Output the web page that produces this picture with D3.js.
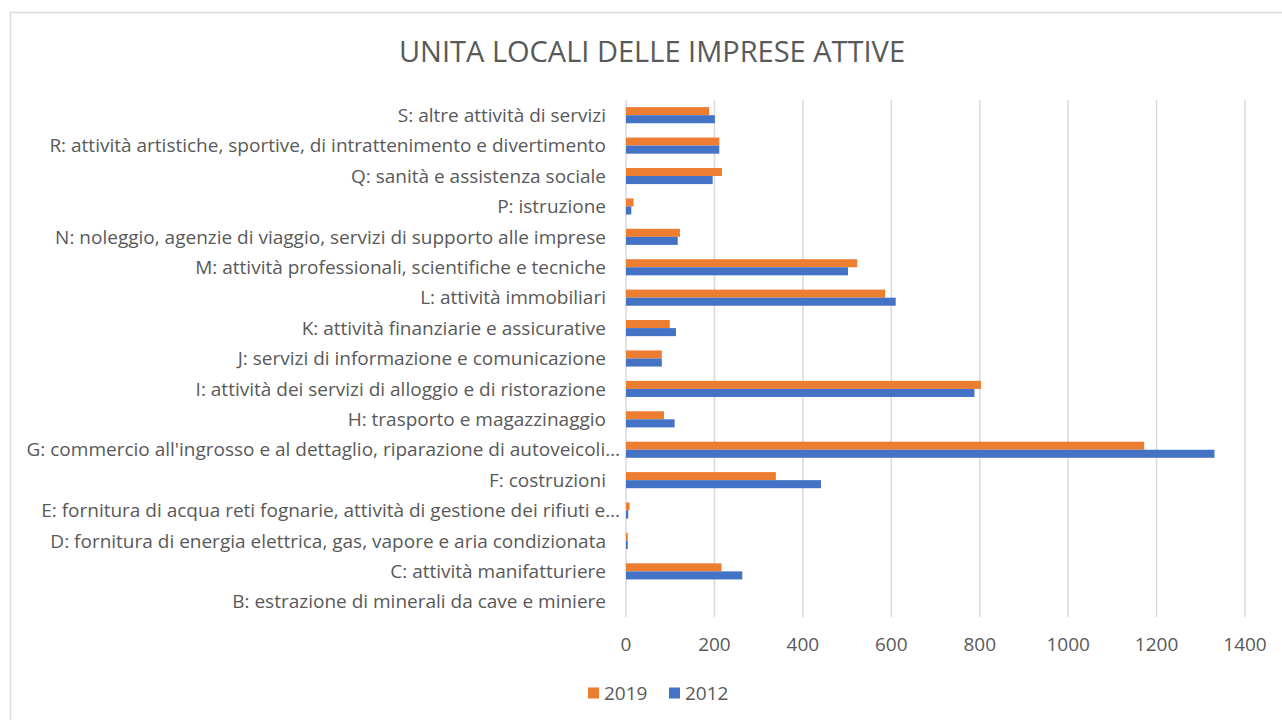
<!DOCTYPE html>
<html>
<head>
<meta charset="utf-8">
<script src="https://cdn.jsdelivr.net/npm/d3@7"></script>
<style>
  body { margin: 0; background: #fff; }
  svg { display: block; font-family: "Open Sans", sans-serif; }
</style>
</head>
<body>
<svg width="1282" height="720"></svg>
<script>
var categories = [
  "S: altre attività di servizi",
  "R: attività artistiche, sportive, di intrattenimento e divertimento",
  "Q: sanità e assistenza sociale",
  "P: istruzione",
  "N: noleggio, agenzie di viaggio, servizi di supporto alle imprese",
  "M: attività professionali, scientifiche e tecniche",
  "L: attività immobiliari",
  "K: attività finanziarie e assicurative",
  "J: servizi di informazione e comunicazione",
  "I: attività dei servizi di alloggio e di ristorazione",
  "H: trasporto e magazzinaggio",
  "G: commercio all'ingrosso e al dettaglio, riparazione di autoveicoli…",
  "F: costruzioni",
  "E: fornitura di acqua reti fognarie, attività di gestione dei rifiuti e…",
  "D: fornitura di energia elettrica, gas, vapore e aria condizionata",
  "C: attività manifatturiere",
  "B: estrazione di minerali da cave e miniere"
];
var values2019 = [188, 211, 217, 17, 122, 523, 586, 99, 81, 803, 86, 1172, 339, 8, 4, 216, 0];
var values2012 = [201, 211, 196, 12, 117, 502, 610, 113, 81, 788, 110, 1331, 441, 5, 4, 263, 0];
var seriesNames = ["2019", "2012"];
var seriesColors = ["#ED7D31", "#4472C4"];
var xTicks = [0, 200, 400, 600, 800, 1000, 1200, 1400];

var svg = d3.select("svg");

// chart frame
svg.append("rect")
  .attr("x", 10.5).attr("y", 12.5)
  .attr("width", 1290).attr("height", 720)
  .attr("fill", "#fff")
  .attr("stroke", "#D9D9D9")
  .attr("stroke-width", 1.5);

svg.append("text")
  .attr("x", 652).attr("y", 62)
  .attr("text-anchor", "middle")
  .attr("fill", "#595959")
  .style("font-size", "29px")
  .text("UNITA LOCALI DELLE IMPRESE ATTIVE");

var x = d3.scaleLinear().domain([0, 1400]).range([626, 1245]);
var y = d3.scaleBand().domain(categories).range([100, 617])
  .paddingInner(0.47).paddingOuter(0.235);
var ySub = d3.scaleBand().domain(seriesNames).range([0, y.bandwidth()]);

// gridlines
svg.append("g").selectAll("line")
  .data(xTicks)
  .enter().append("line")
  .attr("x1", function(d) { return x(d); })
  .attr("x2", function(d) { return x(d); })
  .attr("y1", 100).attr("y2", 617)
  .attr("stroke", "#D9D9D9")
  .attr("stroke-width", 1.5);

// x tick labels
svg.append("g").selectAll("text")
  .data(xTicks)
  .enter().append("text")
  .attr("x", function(d) { return x(d); })
  .attr("y", 651)
  .attr("text-anchor", "middle")
  .attr("fill", "#595959")
  .style("font-size", "19px")
  .text(function(d) { return d; });

// category labels
svg.append("g").selectAll("text")
  .data(categories)
  .enter().append("text")
  .attr("x", function(d) { return d.slice(-1) === "…" ? 620 : 606; })
  .attr("y", function(d) { return y(d) - y.step() * 0.235 + y.step() / 2; })
  .attr("dy", "0.35em")
  .attr("text-anchor", "end")
  .attr("fill", "#595959")
  .style("font-size", "19px")
  .text(function(d) { return d; });

// bars
var rows = categories.map(function(c, i) {
  return { cat: c, vals: [values2019[i], values2012[i]] };
});

var grp = svg.append("g").selectAll("g")
  .data(rows)
  .enter().append("g")
  .attr("transform", function(d) { return "translate(0," + y(d.cat) + ")"; });

grp.selectAll("rect")
  .data(function(d) { return d.vals.map(function(v, k) { return { s: seriesNames[k], v: v, k: k }; }); })
  .enter().append("rect")
  .attr("x", x(0))
  .attr("y", function(d) { return ySub(d.s); })
  .attr("width", function(d) { return x(d.v) - x(0); })
  .attr("height", ySub.bandwidth())
  .attr("fill", function(d) { return seriesColors[d.k]; });

// legend
var legend = svg.append("g").attr("transform", "translate(588,693)");
var items = legend.selectAll("g")
  .data(seriesNames)
  .enter().append("g")
  .attr("transform", function(d, i) { return "translate(" + (i * 81) + ",0)"; });
items.append("rect")
  .attr("x", 0).attr("y", -5.5)
  .attr("width", 11).attr("height", 11)
  .attr("fill", function(d, i) { return seriesColors[i]; });
items.append("text")
  .attr("x", 16).attr("y", 0)
  .attr("dy", "0.35em")
  .attr("fill", "#595959")
  .style("font-size", "19px")
  .text(function(d) { return d; });
</script>
</body>
</html>
